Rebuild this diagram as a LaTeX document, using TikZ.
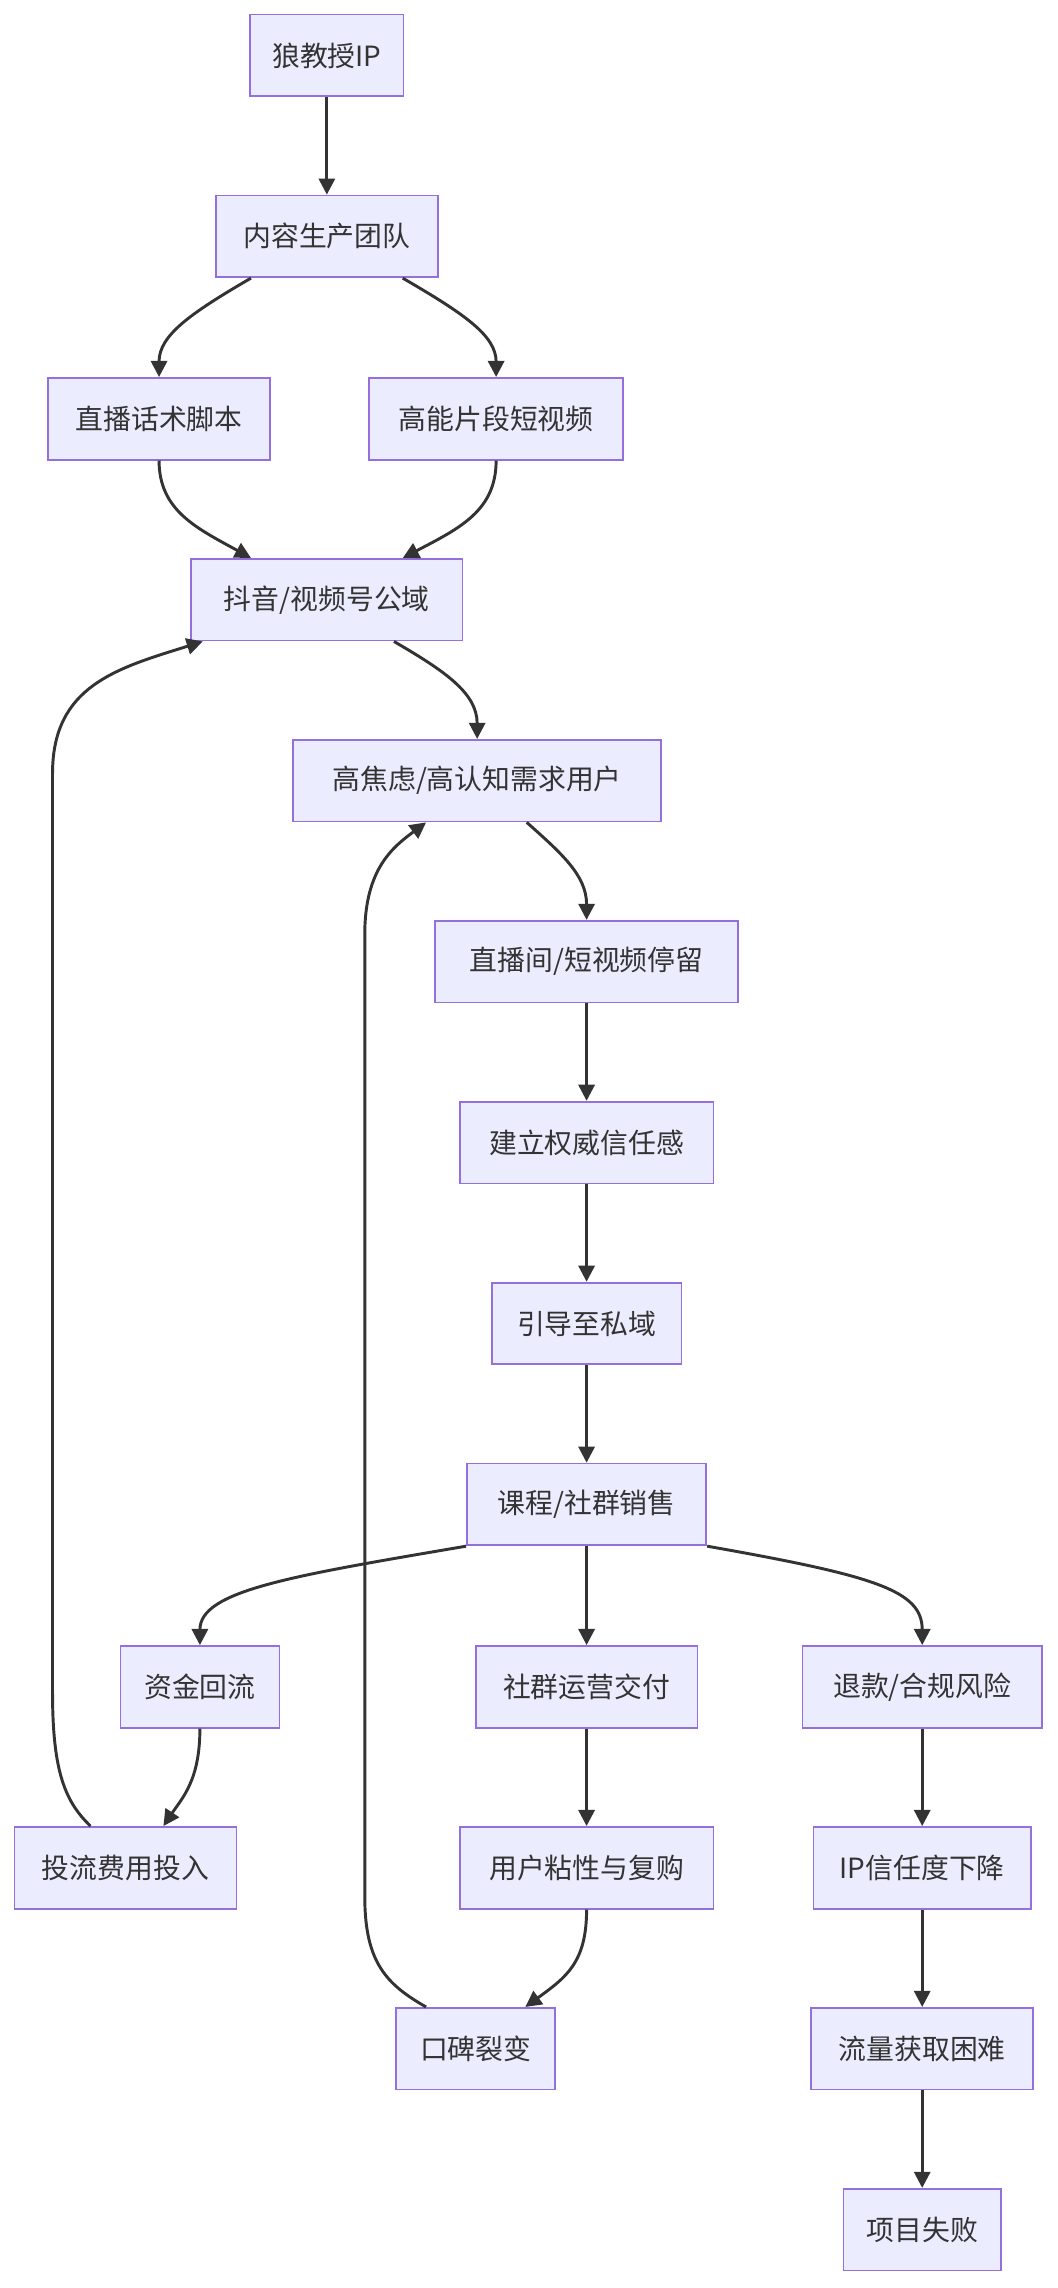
\documentclass[tikz,border=0pt]{standalone}
\usepackage{fontspec}
\setmainfont{Noto Sans CJK SC}
\usetikzlibrary{arrows.meta}
\definecolor{nfill}{HTML}{ECECFF}
\definecolor{nbord}{HTML}{9370DB}
\definecolor{edge}{HTML}{333333}
\begin{document}
\begin{tikzpicture}[x=0.035cm,y=-0.035cm,
  box/.style={draw=nbord,fill=nfill,line width=1.2pt,minimum height=56*0.035cm,inner sep=0pt,font=\fontsize{19}{22}\selectfont,text=edge},
  arr/.style={draw=edge,line width=2pt,-{Triangle[length=11pt,width=11pt]}}]
\useasboundingbox (0,0) rectangle (725,1568);
\newcommand\bx[5]{\node[box,minimum width=#4*0.035cm] (#1) at (#2,#3) {#5};}
\bx{n1}{224}{38}{105}{狼教授IP}
\bx{n2}{224}{162}{152}{内容生产团队}
\bx{n3}{109}{287}{152}{直播话术脚本}
\bx{n4}{340}{287}{174}{高能片段短视频}
\bx{n5}{224}{411}{186}{抖音/视频号公域}
\bx{n6}{327}{535}{252}{高焦虑/高认知需求用户}
\bx{n7}{402}{659}{208}{直播间/短视频停留}
\bx{n8}{402}{783}{174}{建立权威信任感}
\bx{n9}{402}{907}{130}{引导至私域}
\bx{n10}{402}{1031}{164}{课程/社群销售}
\bx{n11}{137}{1156}{109}{资金回流}
\bx{n12}{402}{1156}{152}{社群运营交付}
\bx{n13}{632}{1156}{164}{退款/合规风险}
\bx{n14}{86}{1280}{152}{投流费用投入}
\bx{n15}{402}{1280}{174}{用户粘性与复购}
\bx{n16}{632}{1280}{149}{IP信任度下降}
\bx{n17}{326}{1404}{109}{口碑裂变}
\bx{n18}{632}{1404}{152}{流量获取困难}
\bx{n19}{632}{1528}{108}{项目失败}
\draw[arr] (n1) -- (n2);
\draw[arr] ([xshift=-52*0.035cm]n2.south) .. controls (130,215) and (109,230) .. (n3.north);
\draw[arr] ([xshift=52*0.035cm]n2.south) .. controls (318,215) and (340,230) .. (n4.north);
\draw[arr] (n3.south) .. controls (109,350) and (135,362) .. ([xshift=-52*0.035cm]n5.north);
\draw[arr] (n4.south) .. controls (340,350) and (315,362) .. ([xshift=52*0.035cm]n5.north);
\draw[arr] ([xshift=46*0.035cm]n5.south) .. controls (305,460) and (327,475) .. (n6.north);
\draw[arr] ([xshift=34*0.035cm]n6.south) .. controls (385,585) and (402,600) .. (n7.north);
\draw[arr] (n7) -- (n8);
\draw[arr] (n8) -- (n9);
\draw[arr] (n9) -- (n10);
\draw[arr] (n10.south west) .. controls (200,1080) and (137,1090) .. (n11.north);
\draw[arr] (n10) -- (n12);
\draw[arr] (n10.south east) .. controls (600,1080) and (632,1090) .. (n13.north);
\draw[arr] (n11.south) .. controls (137,1220) and (125,1232) .. ([xshift=26*0.035cm]n14.north);
\draw[arr] (n12) -- (n15);
\draw[arr] (n13) -- (n16);
\draw[arr] (n15.south) .. controls (402,1345) and (388,1355) .. ([xshift=34*0.035cm]n17.north);
\draw[arr] (n16) -- (n18);
\draw[arr] (n18) -- (n19);
\draw[arr] ([xshift=-24*0.035cm]n14.north) .. controls (45,1235) and (36,1215) .. (36,1160) -- (36,530) .. controls (36,470) and (80,458) .. ([xshift=-85*0.035cm]n5.south);
\draw[arr] ([xshift=-34*0.035cm]n17.north) .. controls (265,1360) and (250,1345) .. (250,1300) -- (250,640) .. controls (250,595) and (270,580) .. ([xshift=-35*0.035cm]n6.south);
\end{tikzpicture}
\end{document}
